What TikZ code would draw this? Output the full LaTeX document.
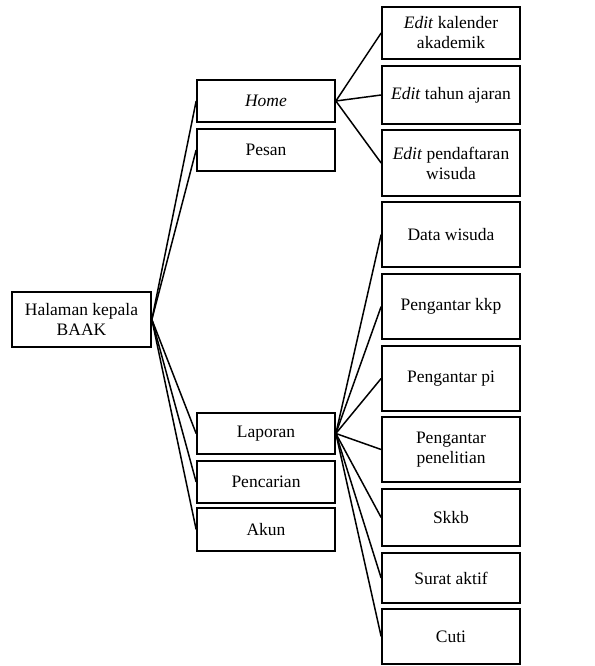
\documentclass[tikz,border=0pt]{standalone}
\usepackage{fontspec}
\setmainfont{Liberation Serif}
\begin{document}
\begin{tikzpicture}[x=1pt, y=-1pt,
	menu/.style={draw, line width=1.7pt, inner sep=0pt, minimum width=138pt, align=center, font=\fontsize{17.5}{20}\selectfont},
	link/.style={line width=1.5pt}]
		\useasboundingbox (0,0) rectangle (594,666);
		%root
		\node (root) at (81.5, 319.5) [menu, minimum width=139pt, minimum height=55pt]{Halaman kepala\\BAAK};
		
		%menu level 1
		\node (home) at (266, 101) [menu, minimum height=42pt]{\textit{Home}};
		\node (pesan) at (266, 150) [menu, minimum height=42pt]{Pesan};
		\node (laporan) at (266, 433.5) [menu, minimum height=41pt]{Laporan};
		\node (pencarian) at (266, 482) [menu, minimum height=42pt]{Pencarian};
		\node (akun) at (266, 529.5) [menu, minimum height=43pt]{Akun};
		
		%menu level 2
		\node (kalender) at (451, 33) [menu, minimum height=52pt]{\textit{Edit} kalender\\akademik};
		\node (tahun) at (451, 95) [menu, minimum height=58pt]{\textit{Edit} tahun ajaran};
		\node (daftar) at (451, 163) [menu, minimum height=66pt]{\textit{Edit} pendaftaran\\wisuda};
		\node (wisuda) at (451, 234.5) [menu, minimum height=65pt]{Data wisuda};
		\node (kkp) at (451, 306.5) [menu, minimum height=65pt]{Pengantar kkp};
		\node (pi) at (451, 378.5) [menu, minimum height=65pt]{Pengantar pi};
		\node (teliti) at (451, 449.5) [menu, minimum height=65pt]{Pengantar\\penelitian};
		\node (skkb) at (451, 517.5) [menu, minimum height=57pt]{Skkb};
		\node (aktif) at (451, 578) [menu, minimum height=50pt]{Surat aktif};
		\node (cuti) at (451, 636.5) [menu, minimum height=55pt]{Cuti};
		
		\foreach \m in {home, pesan, laporan, pencarian, akun}{
			\draw[link] (root.east)--(\m.west);
		}
		\foreach \m in {kalender, tahun, daftar}{
			\draw[link] (home.east)--(\m.west);
		}
		\foreach \m in {wisuda, kkp, pi, teliti, skkb, aktif, cuti}{
			\draw[link] (laporan.east)--(\m.west);
		}
		\end{tikzpicture}
\end{document}
